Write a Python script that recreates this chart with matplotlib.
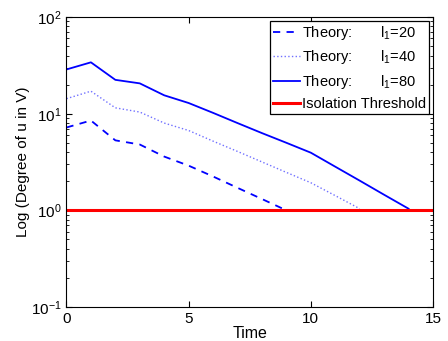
import numpy as np
import matplotlib
matplotlib.use("Agg")
import matplotlib.pyplot as plt
from matplotlib.ticker import LogLocator, NullFormatter

plt.rcParams['font.family'] = ['Liberation Sans', 'DejaVu Sans']
plt.rcParams['mathtext.fontset'] = 'custom'
plt.rcParams['mathtext.rm'] = 'Liberation Sans'
plt.rcParams['mathtext.it'] = 'Liberation Sans'

# Data
t20 = [0, 1, 2, 3, 4, 5, 6, 7, 8, 9]
u20 = [7.2, 8.5, 5.3, 4.8, 3.6, 2.9, 2.24, 1.71, 1.31, 1.0]
t40 = [0, 1, 2, 3, 4, 5, 6, 7, 8, 9, 10, 11, 12]
u40 = [14.3, 17.1, 11.5, 10.4, 8.0, 6.7, 5.2, 4.07, 3.17, 2.47, 1.93, 1.42, 1.04]
t80 = [0, 1, 2, 3, 4, 5, 6, 7, 8, 9, 10, 11, 12, 13, 14]
u80 = [28.7, 34.0, 22.4, 20.6, 15.5, 12.9, 10.2, 8.0, 6.3, 5.0, 3.95, 2.83, 2.03, 1.45, 1.04]
threshold = 1.0

fig = plt.figure(figsize=(4.48, 3.41), dpi=100)
ax = fig.add_axes([0.1484, 0.0997, 0.8181, 0.8503])

ax.plot(t20, u20, '--', color='#0000ff', lw=1.3, dashes=(4, 3.5), label='Theory:       l$_1$=20')
ax.plot(t40, u40, ':', color='#7070ff', lw=1.0, label='Theory:       l$_1$=40')
ax.plot(t80, u80, '-', color='#0000ff', lw=1.3, label='Theory:       l$_1$=80')
ax.axhline(threshold, color='#ff0000', lw=2.2, label='Isolation Threshold')

ax.set_yscale('log')
ax.set_xlim(0, 15)
ax.set_ylim(0.1, 100)
ax.set_xticks([0, 5, 10, 15])
ax.yaxis.set_minor_locator(LogLocator(base=10, subs=np.arange(2, 10)))
ax.yaxis.set_minor_formatter(NullFormatter())
ax.tick_params(which='both', direction='in', top=True, right=True, labelsize=11)
ax.tick_params(which='major', length=4)
ax.tick_params(which='minor', length=2)
ax.set_xlabel('Time', fontsize=11.5, labelpad=0)
ax.set_ylabel('Log (Degree of u in V)', fontsize=11, labelpad=1)

leg = ax.legend(loc='upper right', fontsize=10.5, fancybox=False, edgecolor='black',
                framealpha=1, borderaxespad=0.25, handlelength=1.85, handletextpad=0.15,
                labelspacing=0.45, borderpad=0.2)
leg.get_frame().set_linewidth(0.9)

fig.savefig('out.png', dpi=100)
